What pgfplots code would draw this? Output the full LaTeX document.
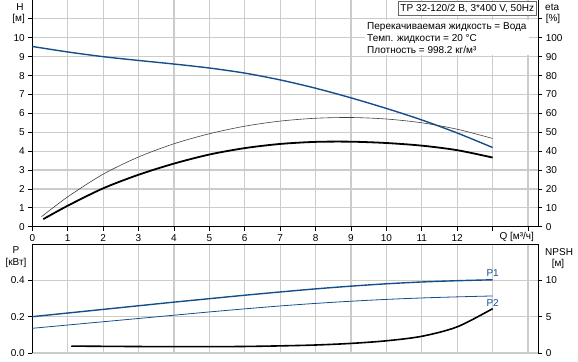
\documentclass[border=0pt]{standalone}
\usepackage{fontspec}
\setmainfont{Liberation Sans}
\usepackage{pgfplots}
\pgfplotsset{compat=1.18}
\definecolor{curveblue}{RGB}{22,78,140}
\pgfplotsset{
  common/.style={
    scale only axis, width=506bp, xmin=0, xmax=14.29,
    axis line style={-, line width=1bp, black},
    tick align=outside, major tick length=4bp,
    tick style={black, line width=0.8bp},
    grid style={black!20, line width=1.2bp},
    /pgf/number format/assume math mode=true,
    ticklabel style={font=\fontsize{10bp}{12bp}\selectfont},
  }
}
\begin{document}
\begin{tikzpicture}
\useasboundingbox (0,0) rectangle (578bp,362bp);
% ---------- top: H ----------
\begin{axis}[common, at={(32.3bp,135.3bp)}, anchor=south west, height=226.7bp,
  ymin=0, ymax=12,
  axis x line*=bottom, axis y line*=left,
  xtick={0,1,2,3,4,5,6,7,8,9,10,11,12,13,14},
  xticklabels={0,1,2,3,4,5,6,7,8,9,10,11,12,{},{}},
  ytick={0,1,2,3,4,5,6,7,8,9,10,11},
  yticklabels={0,1,2,3,4,5,6,7,8,9,10,{[м]}},
  grid=major]
\addplot[curveblue, line width=1.4bp, smooth] coordinates {
(0,9.54) (1,9.25) (2,9.00) (3,8.80) (4,8.61) (5,8.40) (6,8.13) (7,7.77)
(8,7.33) (9,6.82) (10,6.26) (11,5.65) (12,4.96) (13,4.19)};
\end{axis}
% ---------- top: eta ----------
\begin{axis}[common, at={(32.3bp,135.3bp)}, anchor=south west, height=226.7bp,
  ymin=0, ymax=120,
  axis y line*=right, axis x line=none,
  ytick={0,10,20,30,40,50,60,70,80,90,100,110},
  yticklabels={0,10,20,30,40,50,60,70,80,90,100,{[\%]}}]
\addplot[black!75, line width=0.6bp, smooth] coordinates {
(0.26,5.3) (1,15.8) (2,27.8) (3,36.9) (4,43.9) (5,49.2) (6,53.2) (7,55.9)
(8,57.4) (9,57.8) (10,57.0) (11,55.0) (12,51.6) (13,46.7)};
\addplot[black, line width=1.8bp, smooth] coordinates {
(0.31,4.0) (1,11.1) (2,20.3) (3,27.5) (4,33.4) (5,38.2) (6,41.6) (7,43.8)
(8,44.9) (9,45.0) (10,44.3) (11,42.9) (12,40.5) (13,36.6)};
\end{axis}
% ---------- bottom: P ----------
\begin{axis}[common, at={(32.3bp,9bp)}, anchor=south west, height=109bp,
  ymin=0, ymax=0.6,
  axis x line*=top, axis y line*=left,
  xtick={0,1,2,3,4,5,6,7,8,9,10,11,12,13,14}, xticklabels={},
  xtick style={draw=none},
  ytick={0,0.2,0.4}, yticklabels={0.0,0.2,0.4},
  grid=major]
\addplot[curveblue, line width=1.4bp, smooth] coordinates {
(0,0.200) (1,0.220) (2,0.240) (3,0.260) (4,0.280) (5,0.299) (6,0.318) (7,0.336)
(8,0.353) (9,0.368) (10,0.381) (11,0.391) (12,0.398) (13,0.403)};
\addplot[curveblue, line width=0.8bp, smooth] coordinates {
(0,0.136) (1,0.154) (2,0.172) (3,0.190) (4,0.208) (5,0.226) (6,0.243) (7,0.259)
(8,0.273) (9,0.285) (10,0.295) (11,0.303) (12,0.309) (13,0.314)};
\node[curveblue, font=\fontsize{10bp}{12bp}\selectfont] at (axis cs:13,0.439) {P1};
\node[curveblue, font=\fontsize{10bp}{12bp}\selectfont] at (axis cs:13,0.277) {P2};
\end{axis}
% ---------- bottom: NPSH ----------
\begin{axis}[common, at={(32.3bp,9bp)}, anchor=south west, height=109bp,
  ymin=0, ymax=15,
  axis y line*=right, axis x line=none,
  ytick={0,5,10}]
\addplot[black, line width=1.6bp, smooth] coordinates {
(1.1,0.95) (2,0.92) (3,0.89) (4,0.87) (5,0.87) (6,0.90) (7,0.98) (8,1.10)
(9,1.32) (10,1.68) (11,2.30) (12,3.60) (13,6.10)};
\end{axis}
% ---------- texts ----------
\begin{scope}[every node/.style={font=\fontsize{10bp}{12bp}\selectfont, inner sep=0pt}]
\node at (20bp,355bp) {H};
\node[anchor=west] at (545bp,355bp) {eta};
\node at (16bp,112bp) {P};
\node at (16bp,99bp) {[кВт]};
\node[anchor=west] at (545bp,109.5bp) {NPSH};
\node at (558bp,98.5bp) {[м]};
\node at (516.7bp,125bp) {Q [м³/ч]};
\node[draw=black!60, fill=white, line width=0.8bp, inner sep=2.5bp, anchor=north east] at (537bp,361bp) {TP 32-120/2 B, 3*400 V, 50Hz};
\node[fill=white, inner sep=2bp, anchor=north west, align=left] at (365bp,342bp) {Перекачиваемая жидкость = Вода\\Темп. жидкости = 20 °C\\Плотность = 998.2 кг/м³};
\end{scope}
\end{tikzpicture}
\end{document}
